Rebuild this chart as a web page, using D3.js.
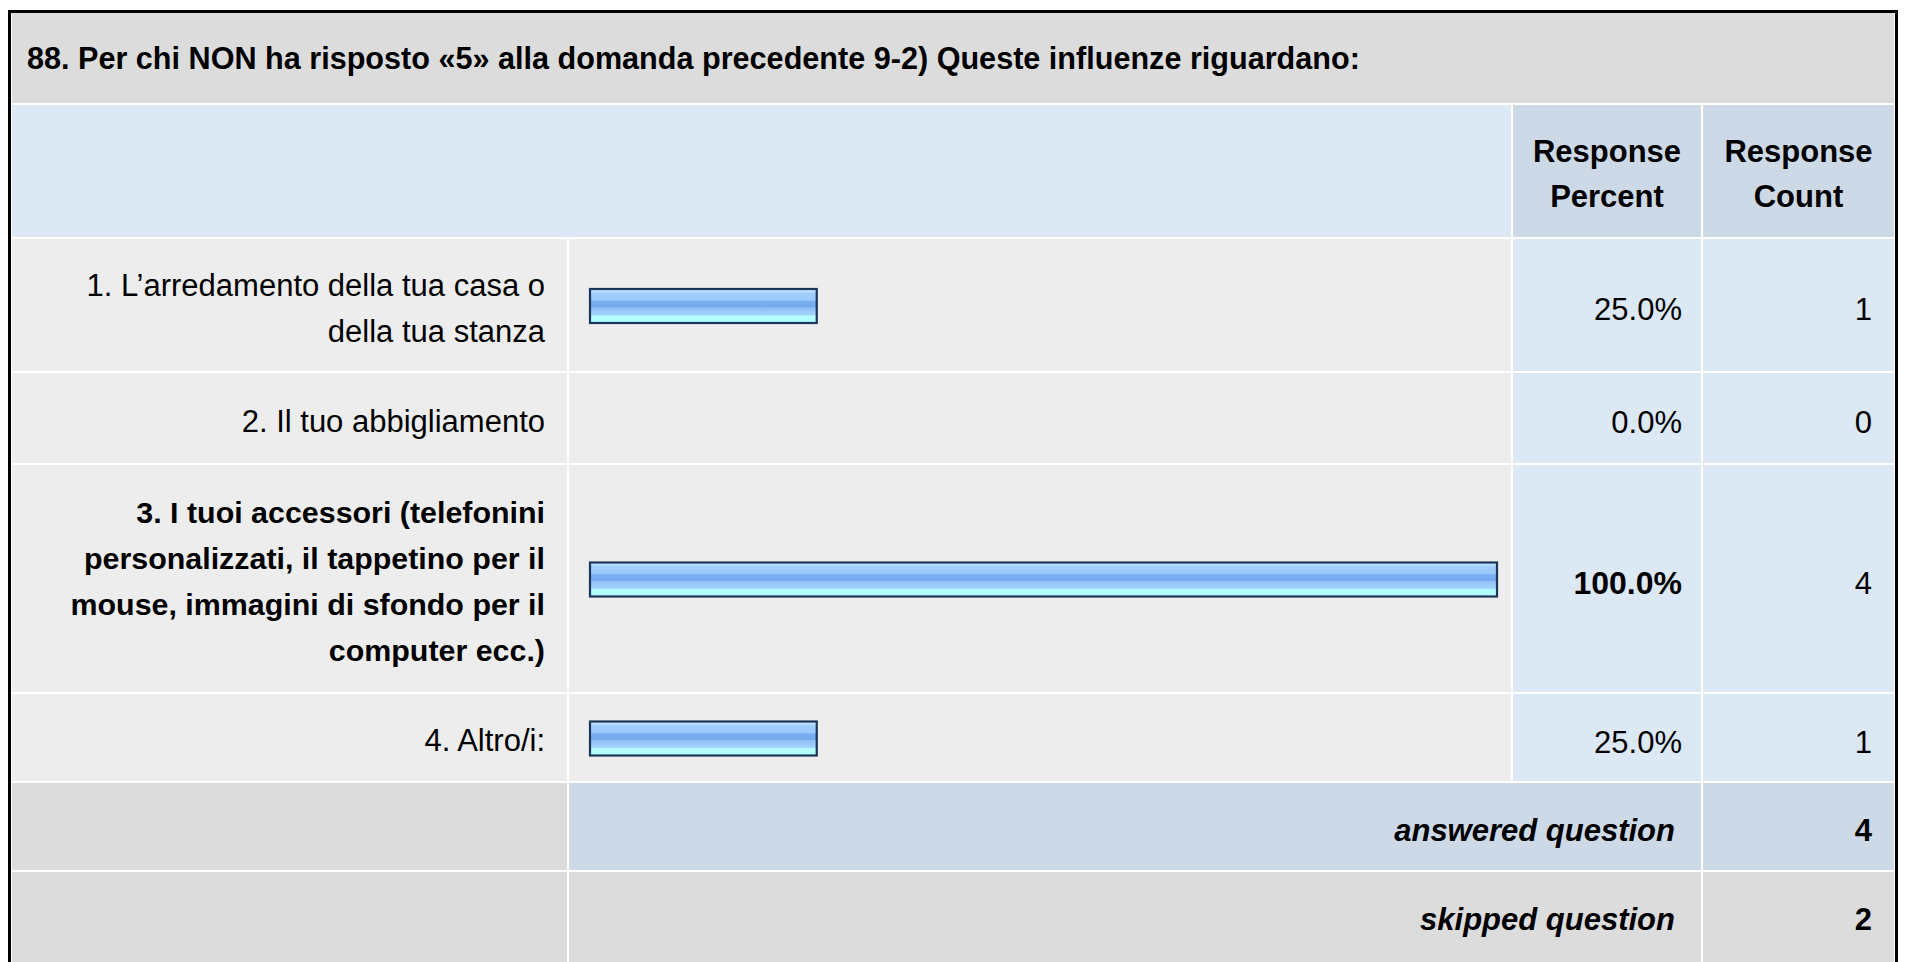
<!DOCTYPE html>
<html>
<head>
<meta charset="utf-8">
<script src="https://cdn.jsdelivr.net/npm/d3@7/dist/d3.min.js"></script>
<style>
  html, body { margin: 0; padding: 0; background: #ffffff; }
  svg { display: block; }
  text { font-family: "Liberation Sans", Arial, Helvetica, sans-serif; fill: #000; }
</style>
</head>
<body>
<div id="chart"></div>
<script>
// Survey question and answer data
const questionTitle = "88. Per chi NON ha risposto «5» alla domanda precedente 9-2) Queste influenze riguardano:";
const headerLabels = [["Response", "Percent"], ["Response", "Count"]];
const categories = [
  ["1. L’arredamento della tua casa o", "della tua stanza"],
  ["2. Il tuo abbigliamento"],
  ["3. I tuoi accessori (telefonini", "personalizzati, il tappetino per il", "mouse, immagini di sfondo per il", "computer ecc.)"],
  ["4. Altro/i:"]
];
const responsePercent = [25.0, 0.0, 100.0, 25.0];
const responseCount = [1, 0, 4, 1];
const summaryLabels = ["answered question", "skipped question"];
const summaryCounts = [4, 2];

// Page geometry
const W = 1913, H = 962;
const gap = 2;
const col = {
  label: [12, 567],
  bar: [569, 1511],
  pct: [1513, 1701],
  cnt: [1703, 1894]
};
const titleRow = [13, 103];
const headerRow = [105, 237];
const dataRowHeights = [132, 90, 227, 87];
const summaryRowHeight = 87;
const lineStep = 46;

const colors = {
  title: "#dcdcdc",
  headerLight: "#dde8f5",
  headerDark: "#cdd9e6",
  rowCell: "#ededed",
  valueCell: "#dde8f5",
  answered: "#cdd9e6",
  skipped: "#dcdcdc"
};

const svg = d3.select("#chart").append("svg")
  .attr("width", W).attr("height", H);

const defs = svg.append("defs");
const grad = defs.append("linearGradient")
  .attr("id", "barFill").attr("x1", 0).attr("y1", 0).attr("x2", 0).attr("y2", 1);
[
  [0, "#cbe7ff"], [0.09, "#b3dbff"], [0.12, "#a0cffd"], [0.32, "#9ccbfc"],
  [0.36, "#7bb1f3"], [0.52, "#74a9f0"], [0.56, "#8fc0f8"], [0.76, "#a3d3fc"],
  [0.8, "#b4feff"], [1, "#b2ffff"]
].forEach(([o, c]) => grad.append("stop").attr("offset", o).attr("stop-color", c));

// Outer frame
svg.append("rect")
  .attr("x", 9.5).attr("y", 11.5)
  .attr("width", 1887).attr("height", H + 20)
  .attr("fill", "#ffffff").attr("stroke", "#000").attr("stroke-width", 3);

function cell(x0, x1, y0, y1, fill) {
  svg.append("rect").attr("x", x0).attr("y", y0)
    .attr("width", x1 - x0).attr("height", y1 - y0).attr("fill", fill);
}

// Title row
cell(col.label[0], col.cnt[1], titleRow[0], titleRow[1], colors.title);
svg.append("text")
  .attr("x", 27).attr("y", (titleRow[0] + titleRow[1]) / 2 + 10.5)
  .attr("font-size", 30.6).attr("font-weight", "bold")
  .text(questionTitle);

// Header row
cell(col.label[0], col.bar[1], headerRow[0], headerRow[1], colors.headerLight);
[col.pct, col.cnt].forEach((c, i) => {
  cell(c[0], c[1], headerRow[0], headerRow[1], colors.headerDark);
  const mid = (headerRow[0] + headerRow[1]) / 2;
  const lines = headerLabels[i];
  svg.append("text")
    .attr("x", (c[0] + c[1]) / 2)
    .attr("text-anchor", "middle")
    .attr("font-size", 31).attr("font-weight", "bold")
    .selectAll("tspan").data(lines).join("tspan")
    .attr("x", (c[0] + c[1]) / 2)
    .attr("y", (d, j) => mid + (j - (lines.length - 1) / 2) * 45 + 13.5)
    .text(d => d);
});

// Data rows
const rowTops = [];
let yCursor = headerRow[1] + gap;
dataRowHeights.forEach(h => { rowTops.push(yCursor); yCursor += h + gap; });

const x = d3.scaleLinear().domain([0, 100]).range([590, 1497]);
const maxPct = d3.max(responsePercent);
const fmtPct = v => d3.format(".1f")(v) + "%";

const rows = svg.append("g").selectAll("g")
  .data(categories.map((lines, i) => ({
    lines, pct: responsePercent[i], cnt: responseCount[i],
    top: rowTops[i], h: dataRowHeights[i]
  })))
  .join("g");

rows.each(function(d) {
  const g = d3.select(this);
  const mid = d.top + d.h / 2;
  const strong = d.pct === maxPct;
  [[col.label, colors.rowCell], [col.bar, colors.rowCell], [col.pct, colors.valueCell], [col.cnt, colors.valueCell]]
    .forEach(([c, f]) => g.append("rect").attr("x", c[0]).attr("y", d.top)
      .attr("width", c[1] - c[0]).attr("height", d.h).attr("fill", f));

  // Label lines, right aligned
  g.append("text")
    .attr("text-anchor", "end")
    .attr("font-size", strong ? 30.4 : 31)
    .attr("font-weight", strong ? "bold" : "normal")
    .selectAll("tspan").data(d.lines).join("tspan")
    .attr("x", 545)
    .attr("y", (t, j) => mid + (j - (d.lines.length - 1) / 2) * lineStep + 13.5)
    .text(t => t);

  // Bar
  const bw = x(d.pct) - x(0);
  g.append("rect")
    .attr("x", x(0)).attr("y", mid + 1 - 17)
    .attr("width", bw).attr("height", 34)
    .attr("fill", "url(#barFill)")
    .attr("stroke", bw > 0 ? "#1c3558" : "none").attr("stroke-width", 2.2);

  // Percent & count
  g.append("text")
    .attr("x", 1682).attr("y", mid + 15)
    .attr("text-anchor", "end")
    .attr("font-size", strong ? 32 : 31)
    .attr("font-weight", strong ? "bold" : "normal")
    .text(fmtPct(d.pct));
  g.append("text")
    .attr("x", 1872).attr("y", mid + 15)
    .attr("text-anchor", "end")
    .attr("font-size", 31)
    .text(d.cnt);
});

// Summary rows
summaryLabels.forEach((label, i) => {
  const top = yCursor + i * (summaryRowHeight + gap);
  const bottom = i === summaryLabels.length - 1 ? H + 10 : top + summaryRowHeight;
  const fill = i === 0 ? colors.answered : colors.skipped;
  cell(col.label[0], col.label[1], top, bottom, colors.skipped);
  cell(col.bar[0], col.pct[1], top, bottom, fill);
  cell(col.cnt[0], col.cnt[1], top, bottom, fill);
  const base = top + summaryRowHeight / 2 + 14;
  svg.append("text")
    .attr("x", 1675).attr("y", base)
    .attr("text-anchor", "end")
    .attr("font-size", 31).attr("font-weight", "bold").attr("font-style", "italic")
    .text(label);
  svg.append("text")
    .attr("x", 1872).attr("y", base)
    .attr("text-anchor", "end")
    .attr("font-size", 31).attr("font-weight", "bold")
    .text(summaryCounts[i]);
});
</script>
</body>
</html>
